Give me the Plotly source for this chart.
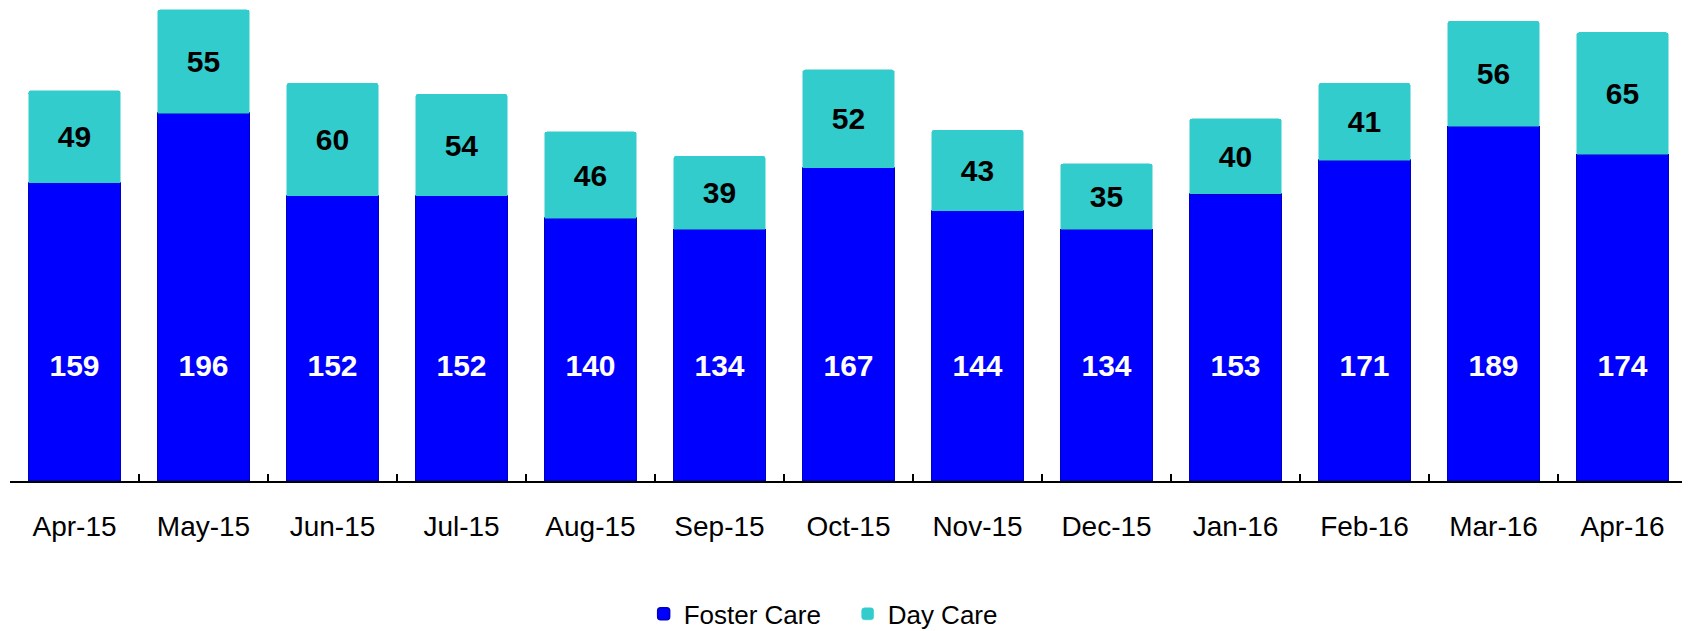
import plotly.graph_objects as go

months = ["Apr-15", "May-15", "Jun-15", "Jul-15", "Aug-15", "Sep-15", "Oct-15",
          "Nov-15", "Dec-15", "Jan-16", "Feb-16", "Mar-16", "Apr-16"]
foster_care = [159, 196, 152, 152, 140, 134, 167, 144, 134, 153, 171, 189, 174]
day_care = [49, 55, 60, 54, 46, 39, 52, 43, 35, 40, 41, 56, 65]

FONT = "Liberation Sans, Arial, sans-serif"
FOSTER_COLOR = "#0000FF"
DAY_COLOR = "#33CCCC"
FOSTER_LABEL_Y = 60  # label height used for the in-bar foster labels

fig = go.Figure()
fig.add_trace(go.Bar(
    x=months, y=foster_care, name="Foster Care",
    marker=dict(color=FOSTER_COLOR, line=dict(color="#0000C0", width=1.5)),
    hoverinfo="x+y",
))
fig.add_trace(go.Bar(
    x=months, y=day_care, name="Day Care",
    marker=dict(color=DAY_COLOR, line=dict(color=DAY_COLOR, width=0.5)),
    text=[str(v) for v in day_care], textposition="inside",
    insidetextanchor="middle", textangle=0, constraintext="none",
    textfont=dict(family=FONT, size=30, color="black", weight="bold"),
))
fig.add_trace(go.Scatter(
    x=months, y=[FOSTER_LABEL_Y] * len(months), mode="text",
    text=[str(v) for v in foster_care],
    textfont=dict(family=FONT, size=30, color="white", weight="bold"),
    showlegend=False, hoverinfo="skip",
))

fig.update_layout(
    width=1682, height=623,
    margin=dict(l=2, r=3, t=0, b=150, autoexpand=False),
    barmode="stack", bargap=0.287, barcornerradius=3,
    paper_bgcolor="white", plot_bgcolor="white",
    font=dict(family=FONT, size=28, color="black"),
    showlegend=True,
    legend=dict(orientation="h", x=0.4995, xanchor="center", y=-0.281, yanchor="middle",
                font=dict(family=FONT, size=26, color="black"),
                itemwidth=30, entrywidth=159, traceorder="normal"),
    xaxis=dict(type="category", range=[-0.5, 12.5], showline=True, linecolor="black",
               linewidth=2, ticks="inside", tickson="boundaries", ticklen=7, tickwidth=2,
               tickcolor="black", showgrid=False, zeroline=False,
               tickfont=dict(family=FONT, size=28, color="black"),
               ticklabelstandoff=19),
    yaxis=dict(range=[0, 252], visible=False, showgrid=False, zeroline=False),
)

fig.write_html("out.html")
